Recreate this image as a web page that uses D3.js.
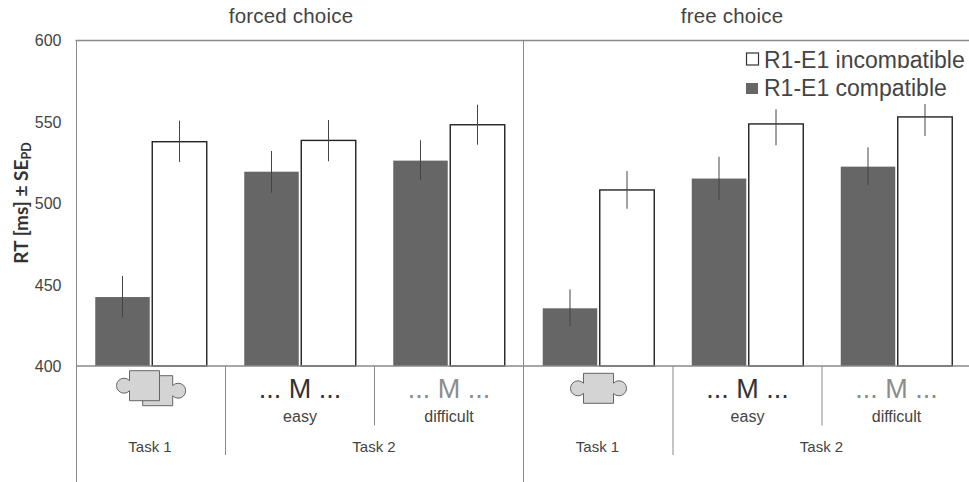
<!DOCTYPE html>
<html>
<head>
<meta charset="utf-8">
<script src="https://cdnjs.cloudflare.com/ajax/libs/d3/7.8.5/d3.min.js"></script>
<style>
body { margin: 0; background: #fff; }
svg { display: block; }
text { font-family: "Liberation Sans", Arial, sans-serif; fill: #444; }
</style>
</head>
<body>
<svg></svg>
<script>
// Values
const panels = ["forced choice", "free choice"];
const conditions = ["task1", "easy", "difficult"];
const seriesNames = ["R1-E1 compatible", "R1-E1 incompatible"];
const yTicks = [400, 450, 500, 550, 600];

const forcedCompatible = [442.3, 519.2, 526];
const forcedIncompatible = [537.6, 538.4, 548];
const freeCompatible = [435.4, 515, 522.3];
const freeIncompatible = [508, 548.5, 552.8];

// error bar ends, they are not always centred on the bar top
const forcedCompatibleLow = [429.9, 506.3, 514.1];
const forcedCompatibleHigh = [455.2, 531.9, 538.5];
const forcedIncompatibleLow = [525.2, 525.6, 535.8];
const forcedIncompatibleHigh = [550.5, 550.9, 560.3];
const freeCompatibleLow = [424.5, 502, 511];
const freeCompatibleHigh = [447, 528.4, 534.2];
const freeIncompatibleLow = [496.5, 535.4, 541.1];
const freeIncompatibleHigh = [519.6, 557.5, 560.7];

const width = 969;
const height = 482;
const darkFill = "#666";
const axisGrey = "#8a8a8a";

var svg = d3.select("svg")
    .attr("width", width)
    .attr("height", height);

var y = d3.scaleLinear().domain([400, 600]).range([366, 40]);

// one band scale per panel, the inner one splits a group into its two bars
var xPanels = [
    d3.scaleBand().domain(conditions).range([76.5, 523.5]),
    d3.scaleBand().domain(conditions).range([524, 971])
];
var xInner = d3.scaleBand().domain(seriesNames).range([-55.75, 55.75]).paddingInner(0.044);

var rows = [
    {panel: 0, values: [forcedCompatible, forcedIncompatible],
     low: [forcedCompatibleLow, forcedIncompatibleLow], high: [forcedCompatibleHigh, forcedIncompatibleHigh]},
    {panel: 1, values: [freeCompatible, freeIncompatible],
     low: [freeCompatibleLow, freeIncompatibleLow], high: [freeCompatibleHigh, freeIncompatibleHigh]}
];

var bars = [];
rows.forEach(r => {
    seriesNames.forEach((s, si) => {
        conditions.forEach((c, ci) => {
            bars.push({panel: r.panel, cond: c, series: s, v: r.values[si][ci], lo: r.low[si][ci], hi: r.high[si][ci]});
        });
    });
});
function barCenter(d) {
    return xPanels[d.panel](d.cond) + xPanels[d.panel].bandwidth() / 2;
}

// frame
var frame = svg.append("g").attr("stroke", axisGrey).attr("fill", "none");
frame.append("line").attr("x1", 75.5).attr("x2", width).attr("y1", y(600) + 0.5).attr("y2", y(600) + 0.5).attr("stroke-width", 1.5);
frame.append("line").attr("x1", 76.5).attr("x2", 76.5).attr("y1", y(600)).attr("y2", height);
frame.append("line").attr("x1", 523.5).attr("x2", 523.5).attr("y1", y(600)).attr("y2", height);

// y axis
var yAxis = d3.axisLeft(y).tickValues(yTicks).tickSize(0).tickPadding(15);
var yG = svg.append("g").attr("transform", "translate(76.5,0.7)").call(yAxis);
yG.select(".domain").remove();
yG.selectAll("text").style("font-size", "16px").style("font-family", '"Liberation Sans", Arial, sans-serif').attr("fill", "#444");

var yLabel = svg.append("text")
    .attr("transform", "translate(28,203) rotate(-90)")
    .attr("text-anchor", "middle")
    .style("font-family", 'Lato, sans-serif')
    .style("font-weight", "700")
    .style("fill", "#333")
    .style("font-size", "19px");
yLabel.append("tspan").text("RT [ms] ± SE");
yLabel.append("tspan").text("PD").attr("dy", 3).style("font-size", "12.5px");

// bars
svg.append("g").selectAll("rect").data(bars).join("rect")
    .attr("x", d => barCenter(d) + xInner(d.series))
    .attr("y", d => y(d.v))
    .attr("width", xInner.bandwidth())
    .attr("height", d => y(400) - y(d.v))
    .attr("fill", d => d.series == seriesNames[0] ? darkFill : "#fff")
    .attr("stroke", d => d.series == seriesNames[0] ? "none" : "#222")
    .attr("stroke-width", 1.4);

// error bars
svg.append("g").selectAll("line").data(bars).join("line")
    .attr("x1", d => barCenter(d) + xInner(d.series) + xInner.bandwidth() / 2)
    .attr("x2", d => barCenter(d) + xInner(d.series) + xInner.bandwidth() / 2)
    .attr("y1", d => y(d.lo))
    .attr("y2", d => y(d.hi))
    .attr("stroke", "#444")
    .attr("stroke-width", 1);

// baseline
svg.append("line").attr("x1", 76).attr("x2", width).attr("y1", y(400)).attr("y2", y(400))
    .attr("stroke", axisGrey).attr("stroke-width", 1.5);

// panel titles
panels.forEach((p, i) => {
    svg.append("text")
        .attr("x", i == 0 ? 291 : 732)
        .attr("y", 23)
        .attr("text-anchor", "middle")
        .style("font-size", "20.5px")
        .style("letter-spacing", "0.2px")
        .text(p);
});

// puzzle piece, knobs stick out of the left and/or right edge
function puzzle(x0, y0, s, left, right) {
    var r = 7.5, off = 5.5, a = 0.75, m = y0 + s / 2, dy = 5.1, p = d3.path();
    p.moveTo(x0, y0);
    p.lineTo(x0 + s, y0);
    if (right) {
        p.lineTo(x0 + s, m - dy);
        p.arc(x0 + s + off, m, r, a - Math.PI, Math.PI - a);
    }
    p.lineTo(x0 + s, y0 + s);
    p.lineTo(x0, y0 + s);
    if (left) {
        p.lineTo(x0, m + dy);
        p.arc(x0 - off, m, r, a, -a);
    }
    p.closePath();
    return p.toString();
}

// lower labels
xPanels.forEach((xp, i) => {
    var c = conditions.map(k => xp(k) + xp.bandwidth() / 2);
    var b1 = xp("easy"), b2 = xp("difficult");
    [[b1, 455], [b2, 425.5]].forEach(t => {
        svg.append("line").attr("x1", t[0]).attr("x2", t[0]).attr("y1", y(400)).attr("y2", t[1])
            .attr("stroke", axisGrey).attr("stroke-width", 1);
    });
    svg.append("text").attr("x", c[0] - 1).attr("y", 451.5).attr("text-anchor", "middle")
        .style("font-size", "15px").text("Task 1");
    svg.append("text").attr("x", b2 - 0.5).attr("y", 451.5).attr("text-anchor", "middle")
        .style("font-size", "15px").text("Task 2");
    svg.append("text").attr("x", c[1]).attr("y", 398).attr("text-anchor", "middle")
        .style("font-size", "27px").style("fill", "#333").text("... M ...");
    svg.append("text").attr("x", c[2]).attr("y", 398).attr("text-anchor", "middle")
        .style("font-size", "27px").style("fill", "#8c8c8c").text("... M ...");
    svg.append("text").attr("x", c[1]).attr("y", 422).attr("text-anchor", "middle")
        .style("font-size", "16px").text("easy");
    svg.append("text").attr("x", c[2]).attr("y", 422).attr("text-anchor", "middle")
        .style("font-size", "16px").text("difficult");
});

var pieces = [
    {x: 142.7, y: 375.7, right: true, left: false},
    {x: 129.5, y: 370.7, right: false, left: true},
    {x: 583.5, y: 373.3, right: true, left: true}
];
svg.append("g").selectAll("path").data(pieces).join("path")
    .attr("d", d => puzzle(d.x, d.y, 30, d.left, d.right))
    .attr("fill", "#d4d4d4")
    .attr("stroke", "#666")
    .attr("stroke-width", 1);

// legend, the first row is cut off at the bottom in the original
svg.append("defs").append("clipPath").attr("id", "legendClip")
    .append("rect").attr("x", 740).attr("y", 40).attr("width", 229).attr("height", 28);

svg.append("rect").attr("x", 746.5).attr("y", 53).attr("width", 12).attr("height", 12)
    .attr("fill", "#fff").attr("stroke", "#333").attr("stroke-width", 1.2);
svg.append("rect").attr("x", 746).attr("y", 83).attr("width", 12).attr("height", 11).attr("fill", darkFill);
svg.append("text").attr("x", 764).attr("y", 68).attr("clip-path", "url(#legendClip)")
    .style("font-size", "23px").text(seriesNames[1]);
svg.append("text").attr("x", 764).attr("y", 96)
    .style("font-size", "23px").text(seriesNames[0]);
</script>
</body>
</html>
